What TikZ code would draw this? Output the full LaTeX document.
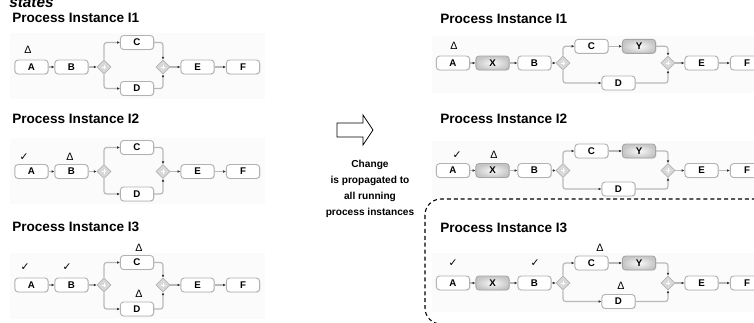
\documentclass[tikz,border=0pt]{standalone}
\usepackage{fontspec}
\setmainfont{Liberation Sans}
\newfontfamily\symfont{DejaVu Sans}
\usetikzlibrary{arrows.meta,shapes.geometric,shadows}
\tikzset{
  act/.style={draw=gray!60, line width=0.7pt, fill=white, rounded corners=2.5pt,
    minimum width=25pt, minimum height=10.5pt, inner sep=0pt,
    font=\bfseries\fontsize{7.3}{8}\selectfont,
    drop shadow={shadow xshift=0.5pt, shadow yshift=-0.5pt, fill=gray!40}},
  chg/.style={act, draw=gray!70, inner color=gray!5, outer color=gray!45},
  gw/.style={diamond, draw=gray!60, line width=0.6pt, fill=gray!30, minimum size=10.5pt, inner sep=0pt,
    path picture={\draw[white, line width=0.5pt]
      ([xshift=-1.8pt]path picture bounding box.center) -- ([xshift=1.8pt]path picture bounding box.center)
      ([yshift=-1.8pt]path picture bounding box.center) -- ([yshift=1.8pt]path picture bounding box.center);}},
  flow/.style={draw=gray!55, line width=0.9pt, rounded corners=2pt,
    -{Latex[length=2pt,width=2pt,color=gray!40!black]}},
  ttl/.style={anchor=base west, inner sep=0pt, font=\bfseries\fontsize{10.2}{12}\selectfont},
  tri/.style={inner sep=0pt, font=\fontsize{8}{9}\selectfont},
  chk/.style={inner sep=0pt, font=\symfont\fontsize{8}{9}\selectfont},
  bgpanel/.style={fill=gray!3, draw=none}
}
\newcommand{\lproc}[4]{%
  \fill[bgpanel] (10,#3-10) rectangle (265,#4+10);
  \node[act] (#1A) at (31.5,#2) {A};
  \node[act] (#1B) at (71.5,#2) {B};
  \node[gw]  (#1G) at (104,#2) {};
  \node[act] (#1C) at (137,#3) {C};
  \node[act] (#1D) at (137,#4) {D};
  \node[gw]  (#1H) at (163,#2) {};
  \node[act] (#1E) at (197.5,#2) {E};
  \node[act] (#1F) at (243,#2) {F};
  \draw[flow] (#1A) -- (#1B);
  \draw[flow] (#1B) -- (#1G);
  \draw[flow] (#1G) |- (#1C);
  \draw[flow] (#1G) |- (#1D);
  \draw[flow] (#1C) -| (#1H);
  \draw[flow] (#1D) -| (#1H);
  \draw[flow] (#1H) -- (#1E);
  \draw[flow] (#1E) -- (#1F);
}
\newcommand{\rproc}[4]{%
  \fill[bgpanel] (432,#3-10) rectangle (754,#4+10);
  \node[act] (#1A) at (453,#2) {A};
  \node[chg] (#1X) at (492.5,#2) {X};
  \node[act] (#1B) at (534.5,#2) {B};
  \node[gw]  (#1G) at (563,#2) {};
  \node[act] (#1C) at (591.5,#3) {C};
  \node[chg] (#1Y) at (639,#3) {Y};
  \node[act] (#1D) at (618.5,#4) {D};
  \node[gw]  (#1H) at (668,#2) {};
  \node[act] (#1E) at (701.5,#2) {E};
  \node[act] (#1F) at (747,#2) {F};
  \draw[flow] (#1A) -- (#1X);
  \draw[flow] (#1X) -- (#1B);
  \draw[flow] (#1B) -- (#1G);
  \draw[flow] (#1G) |- (#1C);
  \draw[flow] (#1C) -- (#1Y);
  \draw[flow] (#1G) |- (#1D);
  \draw[flow] (#1Y) -| (#1H);
  \draw[flow] (#1D) -| (#1H);
  \draw[flow] (#1H) -- (#1E);
  \draw[flow] (#1E) -- (#1F);
}
\begin{document}
\begin{tikzpicture}[x=0.75pt,y=-0.75pt]
\useasboundingbox (0,0) rectangle (754,322);
\begin{scope}
\clip (0,0) rectangle (754,322);
% left column
\node[ttl, font=\bfseries\itshape\fontsize{11.5}{13}\selectfont] (states) at (9,7.5) {states};
\node[ttl] (t1) at (12,22) {Process Instance I1};
\lproc{a}{67}{42.5}{88.5}
\node[tri] (m1) at (28,50) {Δ};

\node[ttl] (t2) at (12,123) {Process Instance I2};
\lproc{b}{171.5}{147.5}{194}
\node[chk] (m2) at (24,157) {✓};
\node[tri] (m3) at (70,157) {Δ};

\node[ttl] (t3) at (12,231) {Process Instance I3};
\lproc{c}{285}{262.5}{309}
\node[chk] (m4) at (25,267) {✓};
\node[chk] (m5) at (67,267) {✓};
\node[tri] (m6) at (139,248) {Δ};
\node[tri] (m7) at (139,294) {Δ};

% middle
\draw[line width=0.6pt] (337,123) -- (363,123) -- (363,115) -- (373,130) -- (363,145) -- (363,137) -- (337,137) -- cycle;
\node[align=center, inner sep=0pt, font=\bfseries\fontsize{7.6}{12}\selectfont] (msg) at (370,189)
  {Change\\is propagated to\\all running\\process instances};

% right column
\node[ttl] (r1) at (440,23) {Process Instance I1};
\rproc{d}{63}{46.3}{83}
\node[tri] (n1) at (454,46) {Δ};

\node[ttl] (r2) at (440,123) {Process Instance I2};
\rproc{e}{170.5}{151}{189}
\node[chk] (n2) at (457,155) {✓};
\node[tri] (n3) at (494,155) {Δ};

\draw[dashed, dash pattern=on 3pt off 2.2pt, line width=0.8pt, rounded corners=12pt] (425,199) rectangle (775,324);
\node[ttl] (r3) at (440,232) {Process Instance I3};
\rproc{f}{283}{263}{301.5}
\node[chk] (n4) at (453,263) {✓};
\node[chk] (n5) at (535,263) {✓};
\node[tri] (n6) at (600,248) {Δ};
\node[tri] (n7) at (621,286) {Δ};
\end{scope}
\end{tikzpicture}
\end{document}
